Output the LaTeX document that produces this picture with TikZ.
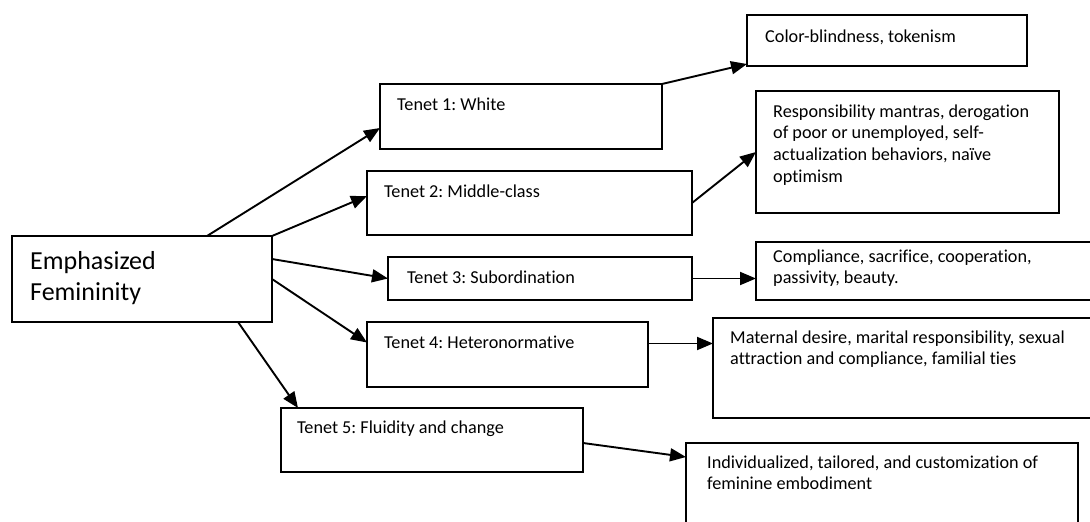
\documentclass[tikz,border=0pt]{standalone}
\usepackage{fontspec}
\setmainfont{Carlito}[RawFeature={-liga}]
\frenchspacing
\usetikzlibrary{arrows.meta,calc}
\begin{document}
\begin{tikzpicture}[x=1pt,y=-1pt,
  box/.style={draw,line width=1.6pt,inner sep=0pt,outer sep=0pt,anchor=north west},
  txt/.style={anchor=base west,inner sep=0pt,font=\fontsize{18.2}{21.7}\selectfont},
  big/.style={anchor=base west,inner sep=0pt,font=\fontsize{26}{31}\selectfont},
  arr/.style={line width=1.9pt,-{Triangle[length=16pt,width=13pt]}}]
\useasboundingbox (0,0) rectangle (1090,522);
\clip (0,0) rectangle (1090,522);
% boxes
\node[box,minimum width=260pt,minimum height=86pt] (ef) at (12,236) {};
\node[box,minimum width=282pt,minimum height=65pt] (t1) at (380,84) {};
\node[box,minimum width=325pt,minimum height=64pt] (t2) at (367,171) {};
\node[box,minimum width=304pt,minimum height=43pt] (t3) at (388,257) {};
\node[box,minimum width=281pt,minimum height=65pt] (t4) at (367,322) {};
\node[box,minimum width=302pt,minimum height=64pt] (t5) at (281,408) {};
\node[box,minimum width=280pt,minimum height=51pt] (col) at (747,15) {};
\node[box,minimum width=303pt,minimum height=122pt] (res) at (756,91) {};
\node[box,minimum width=340pt,minimum height=58pt] (com) at (756,242) {};
\node[box,minimum width=390pt,minimum height=100pt] (mat) at (713,318) {};
\node[box,minimum width=392pt,minimum height=100pt] (ind) at (686,443) {};
% texts
\node[big] (eft) at (30,269) {\parbox[t]{230pt}{Emphasized\\Femininity}};
\node[txt] (t1t) at (397,110) {Tenet 1: White};
\node[txt] (t2t) at (384,197) {Tenet 2: Middle-class};
\node[txt] (t3t) at (407,283) {Tenet 3: Subordination};
\node[txt] (t4t) at (384,348) {Tenet 4: Heteronormative};
\node[txt] (t5t) at (297,433) {Tenet 5: Fluidity and change};
\node[txt] (colt) at (765,42) {Color-blindness, tokenism};
\node[txt] (rest) at (773,117) {\parbox[t]{280pt}{Responsibility mantras, derogation\\of poor or unemployed, self-\\actualization behaviors, naïve\\optimism}};
\node[txt] (comt) at (773,262) {\parbox[t]{300pt}{Compliance, sacrifice, cooperation,\\passivity, beauty.}};
\node[txt] (matt) at (730,343) {\parbox[t]{350pt}{Maternal desire, marital responsibility, sexual\\attraction and compliance, familial ties}};
\node[txt] (indt) at (707,468) {\parbox[t]{360pt}{Individualized, tailored, and customization of\\feminine embodiment}};
% connectors
\draw[arr] ([xshift=65pt]ef.north) -- ([yshift=-11.5pt]t1.west);
\draw[arr] (ef.north east) -- ([yshift=7pt]t2.west);
\draw[arr] (t1.north east) -- ([yshift=2pt]col.south west);
\draw[arr] (t2.east) -- (res.west);
\draw[arr] ([yshift=20pt]ef.east) -- (t3.west);
\draw[arr] (ef.east) -- ([yshift=12pt]t4.west);
\draw[arr] ([xshift=96pt]ef.south) -- ([xshift=17pt]t5.north west);
\draw[arr] (t3.east) -- (t3.east -| com.west);
\draw[arr] ([yshift=11pt]t4.east) -- ([yshift=11pt]t4.east -| mat.west);
\draw[arr] ([yshift=-3pt]t5.east) -- ([yshift=36pt]ind.west);
\end{tikzpicture}
\end{document}
